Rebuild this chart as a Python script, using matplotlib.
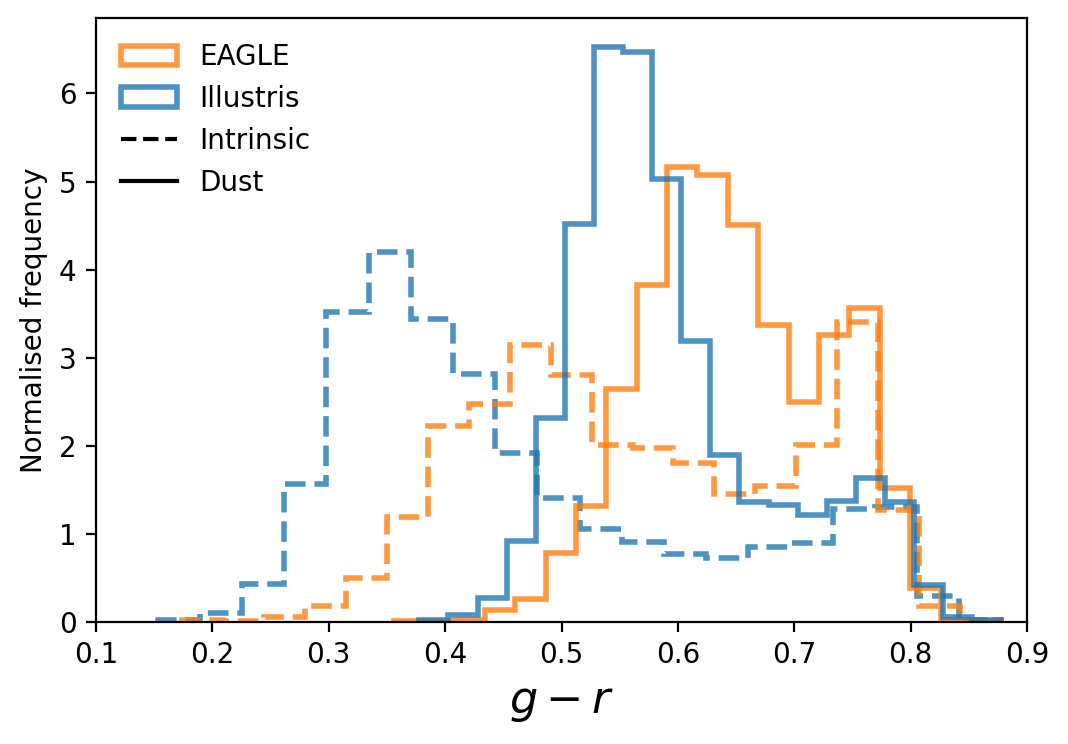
import matplotlib
matplotlib.use("Agg")
import matplotlib.pyplot as plt
from matplotlib.patches import Patch
from matplotlib.lines import Line2D
import numpy as np

# histogram ranges (g - r) and normalised heights, 20 bins each
eagle_intr_range = (0.1736, 0.878)
eagle_intr = [0.02, 0.01, 0.06, 0.18, 0.50, 1.19, 2.23, 2.47, 3.14, 2.80,
              2.01, 1.97, 1.81, 1.45, 1.54, 2.01, 3.41, 1.27, 0.18, 0.02]

eagle_dust_range = (0.3557, 0.878)
eagle_dust = [0.01, 0.01, 0.02, 0.14, 0.26, 0.78, 1.32, 2.64, 3.82, 5.17,
              5.07, 4.51, 3.37, 2.50, 3.26, 3.57, 1.52, 0.39, 0.02, 0.01]

illustris_intr_range = (0.153, 0.878)
illustris_intr = [0.02, 0.10, 0.43, 1.57, 3.52, 4.20, 3.44, 2.81, 1.92, 1.41,
                  1.05, 0.91, 0.77, 0.73, 0.85, 0.90, 1.28, 1.31, 0.29, 0.02]

illustris_dust_range = (0.3778, 0.878)
illustris_dust = [0.02, 0.08, 0.27, 0.92, 2.32, 4.52, 6.53, 6.47, 5.03, 3.19,
                  1.90, 1.36, 1.33, 1.22, 1.37, 1.64, 1.36, 0.42, 0.06, 0.02]


def edges(rng, vals):
    return np.linspace(rng[0], rng[1], len(vals) + 1)


fig = plt.figure(figsize=(5.34, 3.72), dpi=200)
ax = fig.add_axes([0.0899, 0.164, 0.8717, 0.8118])

c_eagle = "tab:orange"
c_ill = "tab:blue"
lw = 2

ax.stairs(illustris_intr, edges(illustris_intr_range, illustris_intr),
          color=c_ill, alpha=0.8, lw=lw, ls="--", baseline=0)
ax.stairs(eagle_intr, edges(eagle_intr_range, eagle_intr),
          color=c_eagle, alpha=0.8, lw=lw, ls="--", baseline=0)
ax.stairs(eagle_dust, edges(eagle_dust_range, eagle_dust),
          color=c_eagle, alpha=0.8, lw=lw, ls="-", baseline=0)
ax.stairs(illustris_dust, edges(illustris_dust_range, illustris_dust),
          color=c_ill, alpha=0.8, lw=lw, ls="-", baseline=0)

ax.set_xlim(0.1, 0.9)
ax.set_ylim(0, max(illustris_dust) * 1.05)
ax.set_xlabel("$g - r$", fontsize=16)
ax.set_ylabel("Normalised frequency")

handles = [
    Patch(facecolor="none", edgecolor=c_eagle, alpha=0.8, lw=lw),
    Patch(facecolor="none", edgecolor=c_ill, alpha=0.8, lw=lw),
    Line2D([], [], color="k", ls="--", lw=1.5),
    Line2D([], [], color="k", ls="-", lw=1.5),
]
ax.legend(handles, ["EAGLE", "Illustris", "Intrinsic", "Dust"],
          loc="upper left", frameon=False)

fig.savefig("out.png", dpi=200)
